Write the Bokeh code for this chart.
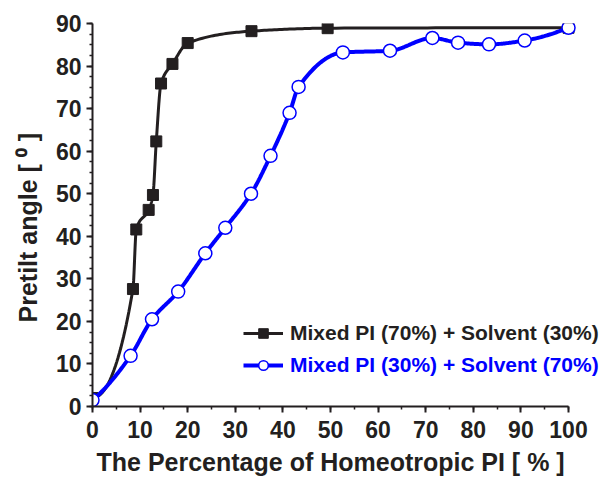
import numpy as np
from bokeh.plotting import figure
from bokeh.models import Range1d, Legend, LegendItem, SingleIntervalTicker, Title
from bokeh.embed import file_html
from bokeh.resources import INLINE

# Data
x_black = [0, 8.5, 9.2, 11.8, 12.7, 13.4, 14.4, 16.8, 20.0, 33.4, 49.4, 100]
y_black = [2, 27.6, 41.6, 46.2, 49.7, 62.3, 75.9, 80.5, 85.4, 88.2, 88.9, 89]
x_blue = [0, 8.0, 12.5, 18.0, 23.7, 27.9, 33.3, 37.4, 41.4, 43.3, 52.6, 62.5, 71.4, 76.8, 83.3, 90.8, 100]
y_blue = [1.5, 11.9, 20.5, 27.0, 36.0, 42.0, 50.0, 58.9, 69.0, 75.1, 83.2, 83.6, 86.6, 85.5, 85.1, 86.0, 89]
label_black = "Mixed PI (70%) + Solvent (30%)"
label_blue = "Mixed PI (30%) + Solvent (70%)"
x_title = "The Percentage of Homeotropic PI [ % ]"
y_title = "Pretilt angle [ \u2070 ]"

BLACK = "#231f20"
BLUE = "#0000ff"
FONT = "Liberation Sans"

# Layout: the axis spans 476 px (0..100); the frame is widened to the page
# edge so the legend (which runs past the axis end) is not clipped.
AXIS_PX = 476
FRAME_PX = 605 - 92
X_END = 100 * FRAME_PX / AXIS_PX


def pchip(x, y, per_seg=30):
    x = np.asarray(x, float)
    y = np.asarray(y, float)
    h = np.diff(x)
    d = np.diff(y) / h
    n = len(x)
    m = np.zeros(n)
    for k in range(1, n - 1):
        if d[k - 1] * d[k] <= 0:
            m[k] = 0.0
        else:
            w1 = 2 * h[k] + h[k - 1]
            w2 = h[k] + 2 * h[k - 1]
            m[k] = (w1 + w2) / (w1 / d[k - 1] + w2 / d[k])

    def end(h0, h1, d0, d1):
        v = ((2 * h0 + h1) * d0 - h0 * d1) / (h0 + h1)
        if np.sign(v) != np.sign(d0):
            v = 0.0
        elif np.sign(d0) != np.sign(d1) and abs(v) > abs(3 * d0):
            v = 3 * d0
        return v

    m[0] = end(h[0], h[1], d[0], d[1])
    m[-1] = end(h[-1], h[-2], d[-1], d[-2])
    xs, ys = [], []
    for k in range(n - 1):
        t = np.linspace(0, 1, per_seg, endpoint=(k == n - 2))
        h00 = 2 * t**3 - 3 * t**2 + 1
        h10 = t**3 - 2 * t**2 + t
        h01 = -2 * t**3 + 3 * t**2
        h11 = t**3 - t**2
        xs.extend(x[k] + t * h[k])
        ys.extend(h00 * y[k] + h10 * h[k] * m[k] + h01 * y[k + 1] + h11 * h[k] * m[k + 1])
    return xs, ys


p = figure(width=605, height=481, output_backend="svg", toolbar_location=None,
           x_range=Range1d(0, X_END), y_range=Range1d(0, 90),
           min_border_left=92, min_border_right=0, min_border_top=23, min_border_bottom=75)
p.outline_line_color = None
p.xgrid.visible = False
p.ygrid.visible = False
p.background_fill_color = "white"
p.border_fill_color = "white"

p.xaxis.ticker = SingleIntervalTicker(interval=10, num_minor_ticks=2)
p.yaxis.ticker = SingleIntervalTicker(interval=10, num_minor_ticks=4)
p.xaxis.bounds = (0, 100)

for ax in (p.xaxis[0], p.yaxis[0]):
    ax.axis_line_width = 2
    ax.axis_line_color = BLACK
    ax.major_tick_line_width = 2
    ax.major_tick_line_color = BLACK
    ax.minor_tick_line_width = 1.5
    ax.minor_tick_line_color = BLACK
    ax.major_tick_in = 0
    ax.major_tick_out = 6
    ax.minor_tick_in = 0
    ax.minor_tick_out = 3
    ax.major_label_text_font = FONT
    ax.major_label_text_font_style = "bold"
    ax.major_label_text_font_size = "23px"
    ax.major_label_text_color = BLACK

p.xaxis.major_label_standoff = 8
p.yaxis.major_label_standoff = 5

# axis titles as Titles so they can be placed along the axis as in the reference
xt = Title(text=x_title, align="left", offset=4, standoff=11,
           text_font=FONT, text_font_style="bold", text_font_size="25px",
           text_color=BLACK)
p.add_layout(xt, "below")
yt = Title(text=y_title, align="left", offset=84, standoff=22,
           text_font=FONT, text_font_style="bold", text_font_size="25px",
           text_color=BLACK)
p.add_layout(yt, "left")

bx, by = pchip(x_black, y_black)
ux, uy = pchip(x_blue, y_blue)

l1 = p.line(bx, by, line_color=BLACK, line_width=3)
s1 = p.scatter(x_black, y_black, marker="square", size=11, fill_color=BLACK, line_color=BLACK)
l2 = p.line(ux, uy, line_color=BLUE, line_width=4)
s2 = p.scatter(x_blue, y_blue, marker="circle", size=13, fill_color="white", line_color=BLUE, line_width=1.5)


def make_legend(label, renderers, color, loc):
    leg = Legend(items=[LegendItem(label=label, renderers=renderers)], location=loc)
    leg.label_text_font = FONT
    leg.label_text_font_style = "bold"
    leg.label_text_font_size = "21px"
    leg.label_text_color = color
    leg.glyph_width = 40
    leg.glyph_height = 24
    leg.label_height = 24
    leg.label_standoff = 7
    leg.padding = 0
    leg.margin = 0
    leg.spacing = 0
    leg.border_line_color = None
    leg.background_fill_alpha = 0
    return leg


p.add_layout(make_legend(label_black, [l1, s1], BLACK, (151, 61)))
p.add_layout(make_legend(label_blue, [l2, s2], BLUE, (151, 29)))

open("out.html", "w").write(file_html(p, INLINE))
